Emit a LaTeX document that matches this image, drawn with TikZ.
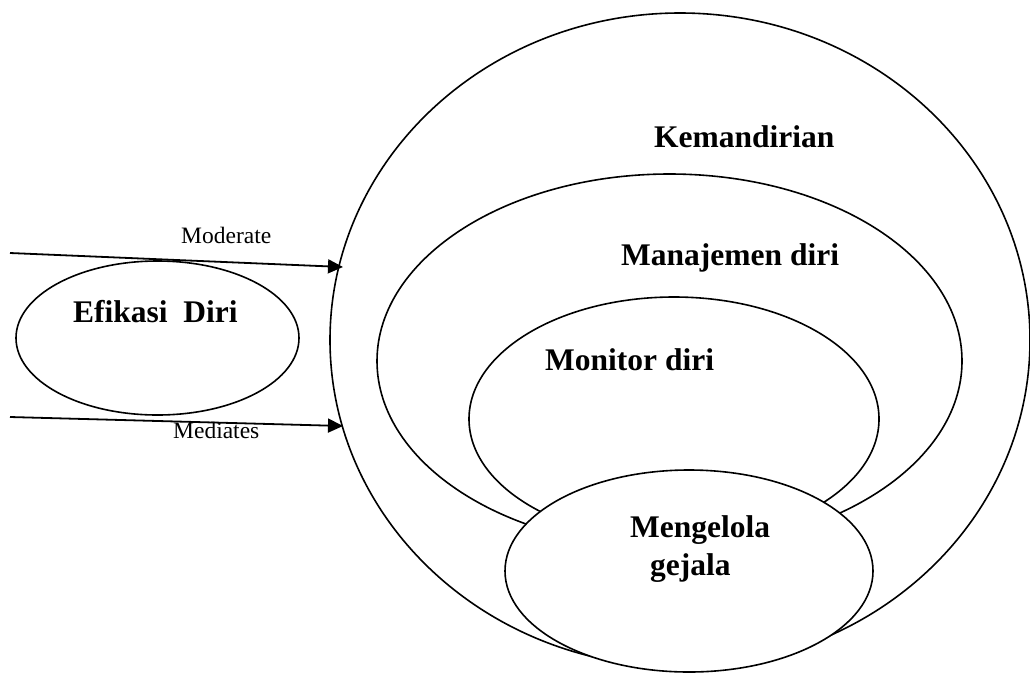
\documentclass[tikz,border=0pt]{standalone}
\usepackage{fontspec}
\setmainfont{Liberation Serif}
\usetikzlibrary{arrows.meta,shapes.geometric}
\begin{document}
\begin{tikzpicture}[x=1pt,y=-1pt,
 oval/.style={draw,ellipse,line width=1.6pt,inner sep=0pt,fill=white},
 lbl/.style={anchor=base west,inner sep=0pt,font=\fontsize{31.5}{38}\selectfont\bfseries},
 small/.style={anchor=base west,inner sep=0pt,font=\fontsize{23.5}{28}\selectfont},
 arr/.style={line width=1.8pt,-{Triangle[length=15pt,width=14pt]}}]
\useasboundingbox (0,0) rectangle (1030,673);
\node[oval,minimum width=700pt,minimum height=654pt] (kem) at (680,340) {};
\node[oval,minimum width=585pt,minimum height=374pt] (man) at (669.5,361) {};
\node[oval,minimum width=410pt,minimum height=244pt] (mon) at (674,419) {};
\node[oval,minimum width=368pt,minimum height=202pt] (gej) at (689,571) {};
\node[oval,minimum width=283pt,minimum height=154pt] (efi) at (157.5,338) {};
\node[lbl] (tkem) at (654,147) {Kemandirian};
\node[lbl] (tman) at (621,265) {Manajemen diri};
\node[lbl] (tmon) at (545,370) {Monitor diri};
\node[lbl] (tgej1) at (630,537) {Mengelola};
\node[lbl] (tgej2) at (650,575) {gejala};
\node[lbl] (tefi) at (73,322) {Efikasi\ \ Diri};
\coordinate (s1) at (10,253);
\coordinate (e1) at (343,267);
\coordinate (s2) at (10,417);
\coordinate (e2) at (343,426);
\draw[arr] (s1) -- (e1);
\draw[arr] (s2) -- (e2);
\node[small] (tmod) at (181,243) {Moderate};
\node[small] (tmed) at (173,438) {Mediates};
\end{tikzpicture}
\end{document}
